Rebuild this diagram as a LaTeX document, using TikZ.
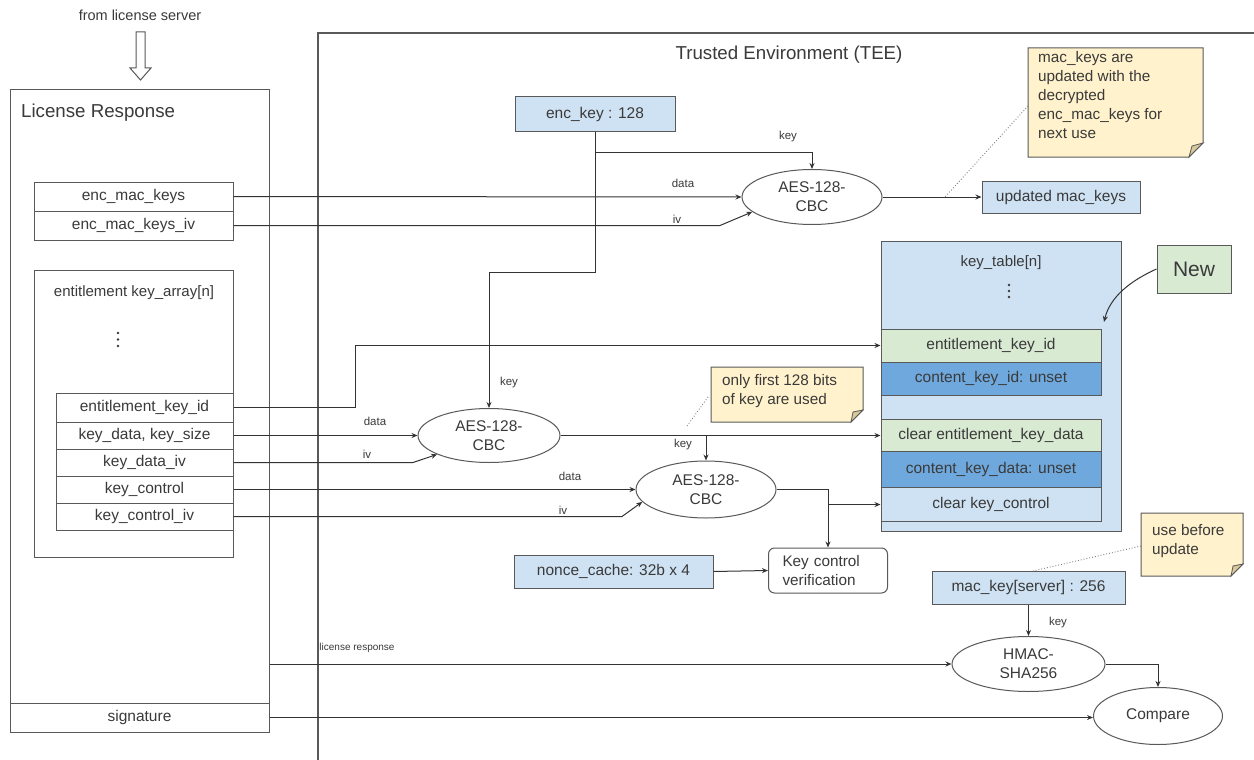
\documentclass[tikz,border=0pt]{standalone}
\usepackage{fontspec}
\setmainfont{Liberation Sans}
\usetikzlibrary{arrows.meta,shapes.geometric}
\definecolor{lblue}{HTML}{CFE2F3}
\definecolor{lgreen}{HTML}{D9EAD3}
\definecolor{mblue}{HTML}{6FA8DC}
\definecolor{notey}{HTML}{FFF2CC}
\definecolor{notef}{HTML}{D9C89A}
\definecolor{bord}{HTML}{595959}
\definecolor{txt}{HTML}{3A3A3A}
\definecolor{lc}{HTML}{333333}
\begin{document}
\begin{tikzpicture}[x=1pt,y=-1pt,
  fld/.style={draw=bord, line width=1pt, inner sep=0pt, text=txt, font=\fontsize{15.5}{18}\selectfont},
  ell/.style={ellipse, draw=bord, line width=1pt, inner sep=0pt, fill=white, text=txt, align=center, font=\fontsize{15.5}{19}\selectfont},
  lbl/.style={text=txt, inner sep=0pt, font=\fontsize{11.5}{13}\selectfont},
  ttl/.style={text=txt, inner sep=0pt, font=\fontsize{18.7}{21}\selectfont},
  ntxt/.style={text=txt, inner sep=0pt, align=left, anchor=west, font=\fontsize{15.3}{19}\selectfont},
  notebox/.style={fill=notey, draw=bord, line width=1pt},
  arr/.style={draw=lc, line width=1pt, -{Stealth[length=6pt,width=5pt]}},
  ln/.style={draw=lc, line width=1pt},
  dotl/.style={draw=gray, line width=0.9pt, dotted},
  vdot/.style={fill=txt, draw=none},
]
\useasboundingbox (0,0) rectangle (1254,760);
\fill[white] (0,0) rectangle (1254,760);

% from license server
\node[lbl, font=\fontsize{14.5}{16}\selectfont] (fls) at (140,15) {from license server};
\draw[draw=bord, line width=1pt, fill=white] (136,32) -- (145,32) -- (145,68) -- (151,68) -- (140.5,80) -- (130,68) -- (136,68) -- cycle;

% License response
\node[fld, minimum width=259pt, minimum height=642pt] (lr) at (139.5,411) {};
\node[ttl, anchor=west] (lrt) at (21,113) {License Response};
\node[fld, minimum width=199pt, minimum height=29pt] (emk) at (133.5,196.5) {enc\_mac\_keys};
\node[fld, minimum width=199pt, minimum height=29pt] (emkiv) at (133.5,225.5) {enc\_mac\_keys\_iv};
\node[fld, minimum width=199pt, minimum height=287pt] (kar) at (133.5,413.5) {};
\node[lbl, font=\fontsize{15}{17}\selectfont] (kart) at (134,293) {entitlement key\_array[n]};
\fill[vdot] (118,333) circle (1.3) (118,339.5) circle (1.3) (118,346) circle (1.3);
\node[fld, minimum width=177pt, minimum height=29pt] (eki) at (144.5,407.5) {entitlement\_key\_id};
\node[fld, minimum width=177pt, minimum height=27pt] (kd) at (144.5,435.5) {key\_data, key\_size};
\node[fld, minimum width=177pt, minimum height=27pt] (kdiv) at (144.5,462.5) {key\_data\_iv};
\node[fld, minimum width=177pt, minimum height=27pt] (kc) at (144.5,489.5) {key\_control};
\node[fld, minimum width=177pt, minimum height=27pt] (kciv) at (144.5,516.5) {key\_control\_iv};
\node[fld, minimum width=259pt, minimum height=29pt, fill=white] (sig) at (139.5,717.5) {signature};

% TEE
\draw[draw=bord, line width=1.2pt] (318,760) -- (318,33) -- (1254,33);
\node[ttl] (teet) at (789,55) {Trusted Environment (TEE)};

\node[fld, fill=lblue, minimum width=160pt, minimum height=34pt] (enckey) at (595,114) {enc\_key : 128};
\node[ell, minimum width=140pt, minimum height=55pt] (aes1) at (812,197) {AES-128-\\CBC};
\node[fld, fill=lblue, minimum width=158pt, minimum height=32pt] (updmk) at (1061,197) {updated mac\_keys};

% note 1
\draw[notebox] (1028,48) -- (1203,48) -- (1203,143) -- (1189,157) -- (1028,157) -- cycle;
\draw[fill=notef, draw=bord, line width=0.8pt] (1203,143) -- (1189,157) -- (1192,146) -- cycle;
\node[ntxt] (n1) at (1038,95) {mac\_keys are\\updated with the\\decrypted\\enc\_mac\_keys for\\next use};
\coordinate (n1p) at (1028,106);
\coordinate (n1q) at (945,197);

% key table
\node[fld, fill=lblue, minimum width=240pt, minimum height=290pt] (ktab) at (1001,386) {};
\node[lbl, font=\fontsize{15}{17}\selectfont] (ktabt) at (1001,263) {key\_table[n]};
\fill[vdot] (1009,285) circle (1.3) (1009,291) circle (1.3) (1009,297) circle (1.3);
\node[fld, fill=lgreen, minimum width=220pt, minimum height=33pt] (r1) at (991,345.5) {entitlement\_key\_id};
\node[fld, fill=mblue, minimum width=220pt, minimum height=33pt] (r2) at (991,378.5) {content\_key\_id: unset};
\node[fld, fill=lgreen, minimum width=220pt, minimum height=32pt] (r3) at (991,435.5) {clear entitlement\_key\_data};
\node[fld, fill=mblue, minimum width=220pt, minimum height=36pt] (r4) at (991,469.5) {content\_key\_data: unset};
\node[fld, fill=lblue, minimum width=220pt, minimum height=34pt] (r5) at (991,504.5) {clear key\_control};

\node[fld, fill=lgreen, minimum width=74pt, minimum height=48pt, font=\fontsize{21}{23}\selectfont] (new) at (1194,269) {New};
\coordinate (newtip) at (1104,322);

% AES 2 and 3
\node[ell, minimum width=142pt, minimum height=54pt] (aes2) at (489,435.5) {AES-128-\\CBC};
\node[ell, minimum width=140pt, minimum height=57pt] (aes3) at (706,489.5) {AES-128-\\CBC};

% note 2
\draw[notebox] (711,367) -- (863,367) -- (863,410) -- (851,422) -- (711,422) -- cycle;
\draw[fill=notef, draw=bord, line width=0.8pt] (863,410) -- (851,422) -- (853,412) -- cycle;
\node[ntxt] (n2) at (722,391) {only first 128 bits\\of key are used};
\coordinate (n2p) at (708,397);
\coordinate (n2q) at (687,426);

% key control verification
\node[fld, rounded corners=6pt, minimum height=45pt, text width=91pt, inner xsep=14pt, align=left, font=\fontsize{15.3}{19}\selectfont] (kcv) at (828,570.5) {Key control\\verification};
\node[fld, fill=lblue, minimum width=199pt, minimum height=33pt] (nonce) at (613.5,571.5) {nonce\_cache: 32b x 4};

% note 3
\draw[notebox] (1141,513) -- (1243,513) -- (1243,564) -- (1231,576) -- (1141,576) -- cycle;
\draw[fill=notef, draw=bord, line width=0.8pt] (1243,564) -- (1231,576) -- (1233,566) -- cycle;
\node[ntxt] (n3) at (1152,541) {use before\\update};
\coordinate (n3p) at (1141,546);
\coordinate (n3q) at (1033,571);

\node[fld, fill=lblue, minimum width=193pt, minimum height=33pt] (mackey) at (1028.5,587.5) {mac\_key[server] : 256};
\node[ell, minimum width=153pt, minimum height=55pt] (hmac) at (1028.5,664) {HMAC-\\SHA256};
\node[ell, minimum width=129pt, minimum height=57pt] (cmp) at (1158,716) {Compare};

% connectors
\draw[arr] (emk.east) -- (aes1.west);
\draw[arr] (emkiv.east) -- (720,225.5) -- (aes1.194);
\draw[ln] (enckey.south) -- (595,272) -- (489,272);
\draw[arr] (489,272) -- (aes2.north);
\draw[arr] (595,152) -| (aes1.north);
\draw[arr] (aes1.east) -- (updmk.west);
\draw[dotl] (n1p) -- (n1q);

\draw[arr] (eki.east) -- (355,407.5) -- (355,345.5) -- (r1.west);
\draw[arr] (kd.east) -- (aes2.west);
\draw[arr] (kdiv.east) -- (413,462.5) -- (aes2.200);
\draw[arr] (kc.east) -- (aes3.west);
\draw[arr] (kciv.east) -- (622,516.5) -- (aes3.191);
\draw[arr] (aes2.east) -- (r3.west);
\draw[arr] (706,435.5) -- (aes3.north);
\draw[arr] (aes3.east) -- (828,489.5) -- (kcv.north);
\draw[arr] (828,504.5) -- (r5.west);
\draw[arr] (nonce.east) -- (kcv.west);
\draw[dotl] (n2p) -- (n2q);

\draw[arr] (new.west) .. controls (1130,281) and (1110,297) .. (newtip);

\draw[dotl] (n3p) -- (n3q);
\draw[arr] (mackey.south) -- (hmac.north);
\draw[arr] (lr.east |- hmac.west) -- (hmac.west);
\draw[arr] (hmac.east) -| (cmp.north);
\draw[arr] (sig.east) -- (sig.east -| cmp.west);

% connector labels
\node[lbl] (lk1) at (788,137) {key};
\node[lbl] (ld1) at (683,183) {data};
\node[lbl] (li1) at (677,219) {iv};
\node[lbl] (lk2) at (509,383) {key};
\node[lbl] (ld2) at (375,421) {data};
\node[lbl] (li2) at (367,454) {iv};
\node[lbl] (lk3) at (683,445) {key};
\node[lbl] (ld3) at (570,476) {data};
\node[lbl] (li3) at (563,510) {iv};
\node[lbl] (lk4) at (1058,623) {key};
\node[lbl, font=\fontsize{10}{11}\selectfont] (llr) at (357,648) {license response};
\end{tikzpicture}
\end{document}
